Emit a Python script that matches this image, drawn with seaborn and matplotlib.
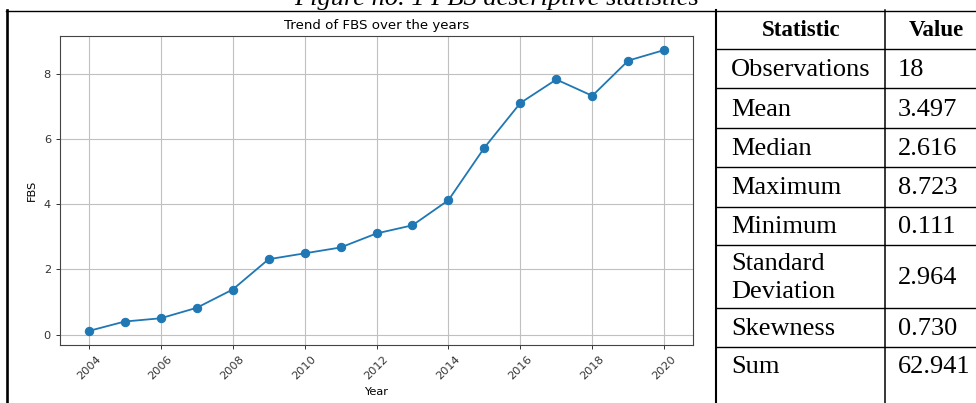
import seaborn as sns
import pandas as pd
import matplotlib.pyplot as plt
from matplotlib.lines import Line2D

# data
years = [2004, 2005, 2006, 2007, 2008, 2009, 2010, 2011, 2012,
         2013, 2014, 2015, 2016, 2017, 2018, 2019, 2020]
fbs = [0.111, 0.40, 0.50, 0.82, 1.38, 2.31, 2.49, 2.67, 3.10,
       3.35, 4.12, 5.73, 7.10, 7.82, 7.32, 8.40, 8.723]

# descriptive statistics table
stat_names = ['Observations', 'Mean', 'Median', 'Maximum', 'Minimum',
              'Standard\nDeviation', 'Skewness', 'Sum']
stat_values = ['18', '3.497', '2.616', '8.723', '0.111', '2.964', '0.730', '62.941']

dados = pd.DataFrame({'Year': years, 'FBS': fbs})

W, H = 976, 403
fig = plt.figure(figsize=(W / 100, H / 100), dpi=100)


def fx(x):
    return x / W


def fy(y):
    return 1 - y / H


# chart
ax = fig.add_axes([fx(60), fy(345), fx(633), 309 / H])
sns.lineplot(data=dados, x='Year', y='FBS', marker='o', color='#1f77b4',
             markersize=6, markeredgecolor='#1f77b4', linewidth=1.3, ax=ax)
ax.set_title('Trend of FBS over the years', fontsize=9.6, pad=5)
ax.set_xlabel('Year', fontsize=8.2, labelpad=4)
ax.set_ylabel('FBS', fontsize=8.2, labelpad=5)
ax.set_xticks(range(2004, 2021, 2))
ax.tick_params(labelsize=8.2, length=3, width=0.7, colors='#333333')
plt.setp(ax.get_xticklabels(), rotation=45)
ax.grid(True, color='#c0c0c0', linewidth=0.8)
for s in ax.spines.values():
    s.set_color('#444444')
    s.set_linewidth(0.8)

# document borders
def hline(y, x0, x1, lw):
    fig.add_artist(Line2D([fx(x0), fx(x1)], [fy(y), fy(y)], color='black', lw=lw))


def vline(x, y0, y1, lw):
    fig.add_artist(Line2D([fx(x), fx(x)], [fy(y0), fy(y1)], color='black', lw=lw))


hline(11, 6, W, 1.0)
vline(7, 10, H, 1.9)
vline(716, 10, H, 1.5)
vline(885, 10, H, 1.1)
row_lines = [49, 88, 128, 167, 207, 245, 308, 347]
for y in row_lines:
    hline(y, 716, W, 1.0)

serif = 'Liberation Serif'
# caption sits above the crop, only its lower part shows
fig.text(fx(497), fy(5), 'Figure no. 1 FBS descriptive statistics', family=serif,
         style='italic', fontsize=19, ha='center', va='baseline')

fig.text(fx(801), fy(31), 'Statistic', family=serif, weight='bold', fontsize=16.5,
         ha='center', va='center')
fig.text(fx(936), fy(31), 'Value', family=serif, weight='bold', fontsize=16.5,
         ha='center', va='center')

row_centers = [70, 110, 149, 188, 227, 278, 329, 367]
for name, val, yc in zip(stat_names, stat_values, row_centers):
    fig.text(fx(731), fy(yc), name, family=serif, fontsize=19, ha='left', va='center',
             linespacing=1.3)
    fig.text(fx(898), fy(yc), val, family=serif, fontsize=19, ha='left', va='center')

fig.savefig('out.png', dpi=100)
